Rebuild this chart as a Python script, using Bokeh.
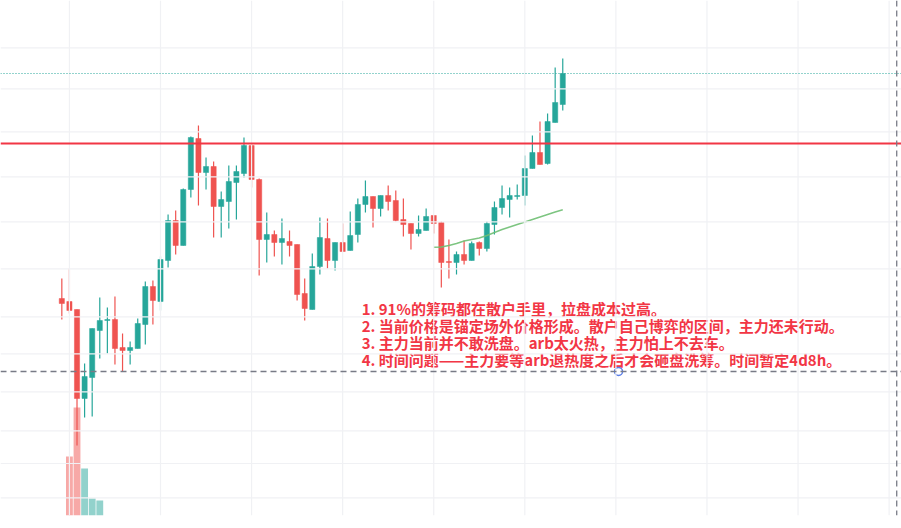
from bokeh.plotting import figure
from bokeh.models import Range1d, ColumnDataSource, Span
from bokeh.core.properties import value
from bokeh.embed import file_html
from bokeh.resources import INLINE

# ---- data ----
opens = [3.02, 2.99, 2.91, 2.02, 2.23, 2.70, 2.80, 2.81, 2.53, 2.50, 2.52, 2.76, 3.14, 2.99, 3.40, 3.80, 3.55,
         4.11, 4.62, 4.28, 4.34, 3.94, 3.99, 4.18, 4.27, 4.55, 4.21, 3.61, 3.66, 3.58, 3.59, 3.56, 3.07,
         2.91, 3.34, 3.62, 3.40, 3.58, 3.50, 3.66, 3.96, 4.04, 3.92, 4.05, 4.00, 3.81, 3.77, 3.67, 3.70,
         3.85, 3.78, 3.39, 3.38, 3.46, 3.40, 3.58, 3.52, 3.76, 3.93, 4.01, 4.04, 4.05, 4.32, 4.48, 4.37,
         4.78, 4.96]
highs = [3.22, 3.32, 2.91, 2.37, 2.72, 3.03, 2.93, 3.04, 2.67, 2.59, 2.82, 3.19, 3.20, 3.44, 3.86, 3.90, 4.12,
         4.64, 4.75, 4.43, 4.39, 4.09, 4.35, 4.35, 4.63, 4.57, 4.22, 3.88, 3.70, 3.82, 3.70, 3.56, 3.22,
         3.47, 3.83, 3.82, 3.58, 3.77, 3.89, 4.02, 4.20, 4.04, 4.05, 4.15, 4.10, 4.02, 3.77, 3.85, 3.92,
         3.85, 3.79, 3.61, 3.49, 3.60, 3.59, 3.59, 3.79, 3.99, 4.15, 4.13, 4.16, 4.45, 4.65, 4.79, 4.87,
         5.33, 5.42]
lows = [2.81, 2.87, 1.55, 1.83, 1.84, 2.42, 2.47, 2.36, 2.29, 2.36, 2.52, 2.56, 2.76, 2.90, 3.33, 3.46, 3.55,
        4.03, 3.95, 4.11, 3.63, 3.63, 3.72, 3.81, 4.23, 4.13, 3.25, 3.38, 3.44, 3.36, 3.44, 3.00, 2.80,
        2.91, 3.26, 3.32, 3.30, 3.49, 3.50, 3.58, 3.88, 3.73, 3.84, 3.90, 3.79, 3.64, 3.51, 3.64, 3.70,
        3.67, 3.13, 3.22, 3.26, 3.36, 3.40, 3.45, 3.49, 3.66, 3.86, 3.83, 4.01, 3.95, 4.32, 4.36, 4.36,
        4.78, 4.90]
closes = [2.97, 2.90, 2.02, 2.24, 2.72, 2.80, 2.81, 2.52, 2.50, 2.53, 2.77, 3.14, 3.00, 3.41, 3.80, 3.55, 4.11,
          4.63, 4.28, 4.34, 3.94, 4.01, 4.19, 4.29, 4.55, 4.21, 3.61, 3.66, 3.58, 3.62, 3.55, 3.06, 2.92,
          3.34, 3.63, 3.40, 3.58, 3.49, 3.65, 3.96, 4.04, 3.92, 4.05, 3.99, 3.80, 3.76, 3.67, 3.71, 3.84,
          3.77, 3.38, 3.38, 3.46, 3.40, 3.57, 3.52, 3.77, 3.93, 4.02, 4.05, 4.05, 4.32, 4.48, 4.36, 4.79,
          4.98, 5.27]
volumes = [0, 59, 108, 47, 17, 15] + [0] * 61
ma_start = 49
ma_values = [3.533, 3.535, 3.55, 3.57, 3.595, 3.61, 3.625, 3.65, 3.68, 3.71, 3.735, 3.76,
             3.785, 3.81, 3.835, 3.86, 3.885, 3.907]
resistance = 4.57
support = 2.29
grid_levels = [5.527, 5.117, 4.687, 4.237, 3.787, 3.317, 2.837, 2.467, 2.087, 1.697, 1.37, 1.027]
grid_bars = [1, 13, 25, 37, 49, 61, 73, 85, 97, 109]
notes = [
    "1. 91%的筹码都在散户手里，拉盘成本过高。",
    "2. 当前价格是锚定场外价格形成。散户自己博弈的区间，主力还未行动。",
    "3. 主力当前并不敢洗盘。arb太火热，主力怕上不去车。",
    "4. 时间问题——主力要等arb退热度之后才会砸盘洗筹。时间暂定4d8h。",
]

UP = "#26a69a"
DOWN = "#ef5350"

n = len(opens)
idx = list(range(n))
colors = [UP if c >= o else DOWN for o, c in zip(opens, closes)]
src = ColumnDataSource(dict(
    x=idx, o=opens, h=highs, l=lows, c=closes,
    top=[max(o, c) for o, c in zip(opens, closes)],
    bot=[min(o, c) for o, c in zip(opens, closes)],
    color=colors, vol=volumes,
))

p = figure(width=901, height=528, output_backend="svg", toolbar_location=None,
           x_range=Range1d(-8.08, 110.63), y_range=Range1d(0.85, 6.0),
           min_border_left=0, min_border_right=0, min_border_top=0, min_border_bottom=13)
p.axis.visible = False
p.xgrid.visible = False
p.ygrid.visible = False
p.outline_line_color = None
p.background_fill_color = "white"
p.border_fill_color = "white"
p.extra_y_ranges = {"vol": Range1d(0, 515)}

grid_color = "#f0f1f4"
for g in grid_levels:
    p.add_layout(Span(location=g, dimension="width", line_color=grid_color, line_width=1.2))
for g in grid_bars:
    p.add_layout(Span(location=g, dimension="height", line_color=grid_color, line_width=1.2))

# volume
p.vbar(x="x", top="vol", bottom=0, width=0.9, source=src, y_range_name="vol",
       fill_color="color", line_color=None, fill_alpha=0.5)

# candles
p.segment(x0="x", y0="l", x1="x", y1="h", source=src, line_color="color", line_width=1.2)
p.vbar(x="x", top="top", bottom="bot", width=0.68, source=src, fill_color="color", line_color="color",
       line_width=0.5)

# moving average
p.line(list(range(ma_start, ma_start + len(ma_values))), ma_values, line_color="#6fbf73",
       line_width=1.5, line_alpha=0.9)

# levels
p.add_layout(Span(location=resistance, dimension="width", line_color="#f23645", line_width=2))
p.add_layout(Span(location=closes[-1], dimension="width", line_color=UP, line_width=1,
                  line_dash="1 2"))
p.add_layout(Span(location=support, dimension="width", line_color="#787b86", line_width=1.3,
                  line_dash="6 4"))
p.add_layout(Span(location=110, dimension="height", line_color="#787b86", line_width=1.3,
                  line_dash="6 4"))

# annotation text
p.text(x=[39.5] * len(notes), y=[2.925 - 0.172 * i for i in range(len(notes))], text=notes,
       text_font=value("Noto Sans CJK SC"), text_font_size="15px", text_font_style="bold",
       text_color="#f23645", text_baseline="middle", text_align="left")
p.scatter(x=[73.35], y=[support], size=8, fill_color="white", line_color="#5b7fe8", line_width=1.5)

open("out.html", "w").write(file_html(p, INLINE))
